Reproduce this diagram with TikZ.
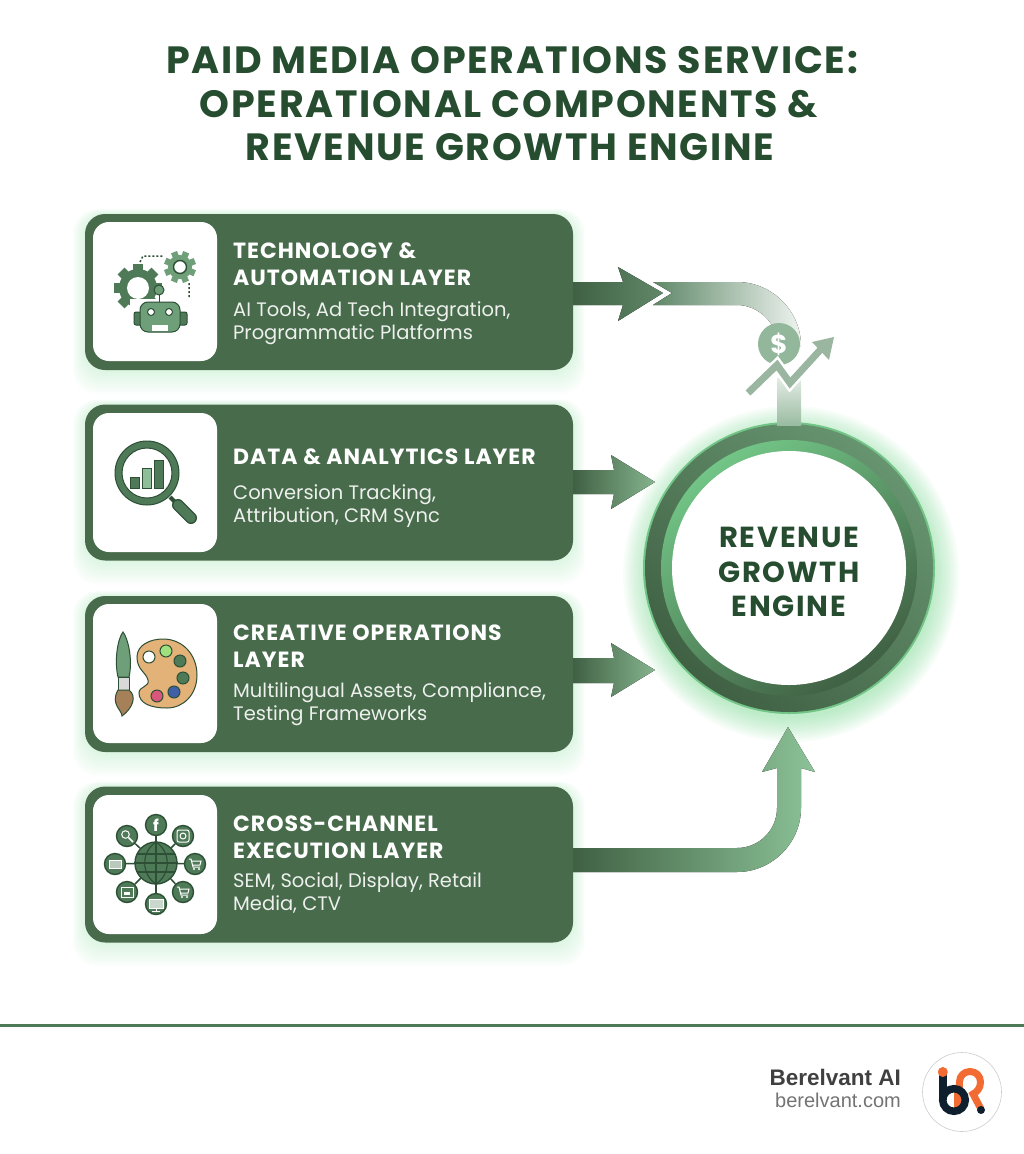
\documentclass[tikz,border=0pt]{standalone}
\usepackage{fontspec}
\setmainfont{Poppins}
\newfontfamily\footfont{Liberation Sans}
\newfontfamily\titlefont{Poppins}[LetterSpace=4.5]
\newfontfamily\headfont{Poppins}[LetterSpace=4.5]
\newfontfamily\corefont{Poppins}[LetterSpace=6]
\usetikzlibrary{backgrounds}

\definecolor{titlegreen}{HTML}{264D2F}
\definecolor{cardgreen}{HTML}{476B4B}
\definecolor{glowgreen}{HTML}{7BD892}
\definecolor{icondark}{HTML}{2C4F35}
\definecolor{iconmid}{HTML}{4F7A58}
\definecolor{iconsoft}{HTML}{6F9F79}
\definecolor{iconpale}{HTML}{8FBF98}
\definecolor{trendgreen}{HTML}{9AB6A0}
\definecolor{lognavy}{HTML}{0F1F2E}
\definecolor{logorange}{HTML}{F26B32}

\tikzset{
  cardbox/.style={fill=cardgreen, rounded corners=20pt, minimum width=488pt, minimum height=156pt, inner sep=0pt},
  iconbox/.style={fill=white, rounded corners=16pt, minimum width=124pt, minimum height=139pt, inner sep=0pt},
  cardhead/.style={anchor=west, align=left, text=white, inner sep=0pt, font=\headfont\fontsize{22}{26.5}\selectfont\bfseries},
  cardtext/.style={anchor=west, align=left, text=white!90!cardgreen, inner sep=0pt, font=\fontsize{19.5}{23}\selectfont},
  titleline/.style={text=titlegreen, inner sep=0pt, font=\titlefont\fontsize{38}{38}\selectfont\bfseries},
  satnode/.style={circle, draw=icondark, line width=1.4pt, fill=iconmid, minimum size=21pt, inner sep=0pt, text=white},
  paintdot/.style={draw=icondark, line width=1pt},
  iconline/.style={draw=icondark, line width=1pt},
  glyphline/.style={draw=white, line width=1pt},
}

% one gear, centre then radii
\newcommand{\gearicon}[5]{
  \begin{scope}[shift={(#1)}]
    \foreach \a in {0,45,...,315}
      \fill[#5, rotate=\a+#4] (-#3*0.2,#2*0.9) rectangle (#3*0.2,#3);
    \fill[#5] (0,0) circle (#2);
  \end{scope}
}

% small shopping cart
\newcommand{\cartglyph}[1]{
  \begin{scope}[shift={(#1)}]
    \draw[glyphline] (-6,-5) -- (-4,-5) -- (-2,3) -- (5,3) (-3.5,-3) -- (6,-3) -- (5,1) -- (-2.5,1);
    \fill[white] (-1,5) circle (1.2) (4,5) circle (1.2);
  \end{scope}
}

\begin{document}
\begin{tikzpicture}[x=1pt,y=-1pt]
  \useasboundingbox (0,0) rectangle (1024,1154);

  % Title
  \node[titleline] (title1) at (512,60) {PAID MEDIA OPERATIONS SERVICE:};
  \node[titleline] (title2) at (509,104) {OPERATIONAL COMPONENTS \&};
  \node[titleline] (title3) at (510,147) {REVENUE GROWTH ENGINE};

  % Cards
  \node[cardbox] (techcard) at (329,292) {};
  \node[cardbox] (datacard) at (329,482.5) {};
  \node[cardbox] (creacard) at (329,674) {};
  \node[cardbox] (crosscard) at (329,864.5) {};

  \node[iconbox] (techicon) at (155,291.5) {};
  \node[iconbox] (dataicon) at (155,482.5) {};
  \node[iconbox] (creaicon) at (155,673.5) {};
  \node[iconbox] (crossicon) at (155,864.5) {};

  \node[cardhead] (techhead) at (233,264) {TECHNOLOGY \&\\AUTOMATION LAYER};
  \node[cardtext] (techtext) at (233,323.5) {AI Tools, Ad Tech Integration,\\Programmatic Platforms};
  \node[cardhead] (datahead) at (233,457) {DATA \& ANALYTICS LAYER};
  \node[cardtext] (datatext) at (233,506) {Conversion Tracking,\\Attribution, CRM Sync};
  \node[cardhead] (creahead) at (233,646) {CREATIVE OPERATIONS\\LAYER};
  \node[cardtext] (creatext) at (233,704) {Multilingual Assets, Compliance,\\Testing Frameworks};
  \node[cardhead] (crosshead) at (233,837) {CROSS-CHANNEL\\EXECUTION LAYER};
  \node[cardtext] (crosstext) at (233,893) {SEM, Social, Display, Retail\\Media, CTV};

  % Glow
  \begin{scope}[on background layer]
    \foreach \g in {2,4,...,24} {
      \fill[glowgreen, opacity=0.025, rounded corners=24pt] ([shift={(-\g*0.5,-\g*0.2)}]techcard.north west) rectangle ([shift={(\g*0.5,\g)}]techcard.south east);
      \fill[glowgreen, opacity=0.025, rounded corners=24pt] ([shift={(-\g*0.5,-\g*0.2)}]datacard.north west) rectangle ([shift={(\g*0.5,\g)}]datacard.south east);
      \fill[glowgreen, opacity=0.025, rounded corners=24pt] ([shift={(-\g*0.5,-\g*0.2)}]creacard.north west) rectangle ([shift={(\g*0.5,\g)}]creacard.south east);
      \fill[glowgreen, opacity=0.025, rounded corners=24pt] ([shift={(-\g*0.5,-\g*0.2)}]crosscard.north west) rectangle ([shift={(\g*0.5,\g)}]crosscard.south east);
    }
    \foreach \g in {2,4,...,26}
      \fill[glowgreen, opacity=0.05] (791,574) circle (142+\g);
  \end{scope}

  % Engine
  \node[circle, fill=glowgreen!80!iconmid, minimum size=292pt, inner sep=0pt] (engine) at (789,568) {};
  \shade[top color=iconsoft!80!cardgreen, bottom color=cardgreen!90!black, shading angle=-40] (engine) circle (144);
  \shade[top color=glowgreen!80!iconmid, bottom color=cardgreen!90!black, shading angle=35] (engine) circle (128);
  \node[circle, fill=white, minimum size=234pt, inner sep=0pt] (enginecore) at (789,568) {};
  \node[align=center, text=titlegreen, inner sep=0pt, font=\corefont\fontsize{29}{34.5}\selectfont\bfseries] (enginetext) at (789,572) {REVENUE\\GROWTH\\ENGINE};

  % Arrows
  \fill[left color=cardgreen!90!black, right color=iconmid!90!white] (techcard.east |- 0,282) -- (623,282) -- (618,267) -- (663,293) -- (618,321) -- (623,305) -- (techcard.east |- 0,305) -- cycle;
  \fill[left color=iconsoft!85!black, middle color=iconsoft, right color=iconsoft!12!white] (653,282) -- (737,282) .. controls (772,282) and (801,311) .. (801,346) -- (778,346) .. controls (778,324) and (759,305) .. (737,305) -- (653,305) -- (672,293) -- cycle;

  \fill[left color=cardgreen!90!black, right color=iconpale!85!iconmid] (datacard.east |- 0,470) -- (614,470) -- (611,455) -- (655,482) -- (611,509) -- (614,494) -- (datacard.east |- 0,494) -- cycle;
  \fill[left color=cardgreen!90!black, right color=iconpale!85!iconmid] (creacard.east |- 0,658) -- (614,658) -- (611,643) -- (655,670) -- (611,697) -- (614,683) -- (creacard.east |- 0,683) -- cycle;

  \fill[left color=cardgreen!90!black, right color=iconpale!85!glowgreen] (crosscard.east |- 0,848) -- (737,848) .. controls (759,848) and (777,830) .. (777,808) -- (777,768) -- (762,772) -- (788,727) -- (815,772) -- (801,768) -- (801,808) .. controls (801,843) and (772,872) .. (737,872) -- (crosscard.east |- 0,872) -- cycle;

  % Coin and trend
  \shade[top color=white!80!iconsoft, bottom color=iconsoft!70!white] (777,378) rectangle (801,425);
  \node[circle, fill=iconsoft!75!white, minimum size=42pt, inner sep=0pt, text=white, font=\fontsize{26}{26}\selectfont\bfseries] (coin) at (779,344) {\$};
  \coordinate (trendstart) at (748,393);
  \coordinate (trendtip) at (834,337);
  \draw[white, line width=12pt] (trendstart) -- (777,365) -- (790,383) -- (820,350);
  \draw[trendgreen, line width=7pt] (trendstart) -- (777,365) -- (790,383) -- (822,348);
  \fill[trendgreen] (trendtip) -- (812,342) -- (829,360) -- cycle;

  % Gear and robot icon
  \gearicon{138,288}{19}{24}{0}{iconmid}
  \fill[white] (138,288) circle (11);
  \gearicon{180,267}{12}{16}{22}{iconsoft}
  \draw[fill=white, line width=1.4pt, draw=icondark] (180,267) circle (6.5);
  \draw[icondark, line width=1.5pt, dash pattern=on 2pt off 2pt] (140,262) -- (143,256) -- (163,256);
  \draw[icondark, line width=1.5pt, dash pattern=on 2pt off 2pt] (189,283) -- (189,300) -- (183,304);
  \fill[white] (130,299) rectangle (190,336);
  \draw[iconline, fill=iconmid, rounded corners=2pt] (134,312) rectangle (187,325);
  \draw[iconline] (159,302) -- (159,294);
  \draw[iconline, fill=iconsoft] (159,290) circle (5);
  \draw[iconline, fill=iconsoft, rounded corners=8pt] (140,302) rectangle (180,332);
  \draw[iconline, fill=white] (151,312) circle (3.5);
  \draw[iconline, fill=white] (169,312) circle (3.5);
  \fill[white] (152,325) rectangle (168,331);

  % Magnifier icon
  \draw[icondark, line width=4pt] (170,497) -- (178,505);
  \draw[icondark, line width=12pt, line cap=round] (178,505) -- (191,518);
  \draw[iconmid, line width=9.5pt, line cap=round] (178,505) -- (191,518);
  \draw[iconline, fill=iconmid] (147,473) circle (32);
  \draw[iconline, fill=white] (147,473) circle (25);
  \draw[iconline, fill=iconmid] (130,477) rectangle (139,488);
  \draw[iconline, fill=iconpale] (142,468) rectangle (151,488);
  \draw[iconline, fill=iconmid] (154,460) rectangle (163,488);

  % Brush and palette icon
  \draw[iconline, fill=iconsoft] (123,632) .. controls (128,638) and (133,660) .. (129,677) -- (118,677) .. controls (114,660) and (118,638) .. (123,632) -- cycle;
  \draw[iconline, fill=gray!30] (118,677) rectangle (129,690);
  \draw[iconline, fill=brown!60!gray] (118,690) -- (129,690) .. controls (137,696) and (133,708) .. (122,716) .. controls (122,710) and (110,704) .. (118,690) -- cycle;
  \draw[iconline, fill={rgb,255:red,226;green,178;blue,120}] (137,657) .. controls (137,645) and (150,639) .. (163,639) .. controls (183,639) and (197,655) .. (197,675) .. controls (197,695) and (183,708) .. (167,708) .. controls (150,708) and (139,703) .. (139,693) .. controls (139,686) and (150,687) .. (148,680) .. controls (146,672) and (137,670) .. (137,657) -- cycle;
  \draw[paintdot, fill=white] (149,657) circle (6);
  \draw[paintdot, fill={rgb,255:red,160;green,224;blue,127}] (166,651) circle (6);
  \draw[paintdot, fill=iconmid] (180,661) circle (6);
  \draw[paintdot, fill=iconmid] (183,678) circle (6);
  \draw[paintdot, fill={rgb,255:red,63;green,95;blue,168}] (174,692) circle (6);
  \draw[paintdot, fill={rgb,255:red,217;green,87;blue,122}] (157,696) circle (6);

  % Globe and channels icon
  \node[circle, draw=icondark, line width=1.4pt, fill=iconmid, minimum size=42pt, inner sep=0pt] (globe) at (156,863) {};
  \draw[icondark, line width=1.2pt] (globe.north) -- (globe.south) (globe.west) -- (globe.east);
  \draw[icondark, line width=1.2pt] (137,854) -- (175,854) (137,872) -- (175,872);
  \draw[icondark, line width=1.2pt] (156,842) .. controls (141,852) and (141,874) .. (156,884) .. controls (171,874) and (171,852) .. (156,842);
  \foreach \name/\pos/\glyph in {sat1/{156,825}/f, sat2/{183,836}/, sat3/{195,864}/, sat4/{183,892}/, sat5/{156,904}/, sat6/{127,892}/, sat7/{115,864}/, sat8/{127,836}/} {
    \node[satnode, font=\fontsize{16}{16}\selectfont\bfseries] (\name) at (\pos) {\glyph};
    \draw[icondark, line width=1.5pt] (globe) -- (\name);
  }
  \draw[glyphline, rounded corners=2pt] (177,830) rectangle (189,842);
  \draw[glyphline] (183,836) circle (3);
  \cartglyph{195,864}
  \cartglyph{183,892}
  \draw[glyphline, fill=white!70!iconmid] (149,899) rectangle (163,908);
  \draw[glyphline] (156,908) -- (156,911) (152,911) -- (160,911);
  \draw[glyphline] (121,887) rectangle (133,897);
  \fill[white] (124,892) rectangle (130,895);
  \draw[glyphline, fill=white!60!iconmid] (109,860) rectangle (121,868);
  \draw[glyphline] (125.5,834.5) circle (3.8);
  \draw[glyphline, line width=1.5pt] (128.5,837.5) -- (133,842);

  % Footer
  \draw[iconmid, line width=3pt] (0,1025.5) -- (1024,1025.5);
  \node[anchor=base east, inner sep=0pt, text=black!75, font=\footfont\fontsize{22.5}{22.5}\selectfont\bfseries] (brandname) at (901,1085) {Berelvant AI};
  \node[anchor=base east, inner sep=0pt, text=black!55, font=\footfont\fontsize{20}{20}\selectfont] (brandurl) at (901,1107) {berelvant.com};
  \node[circle, draw=black!20, line width=0.6pt, fill=white, minimum size=79pt, inner sep=0pt] (logo) at (962,1092) {};
  \draw[logorange, line width=7pt] (959,1094) -- (959.5,1082) .. controls (959.5,1076) and (964,1071.5) .. (970,1071.5) .. controls (976,1071.5) and (980.5,1076) .. (980.5,1082) .. controls (980.5,1088) and (977,1092) .. (973,1094) -- (981,1109);
  \fill[logorange] (954,1092) rectangle (963,1110);
  \draw[lognavy, line width=7.5pt] (942.8,1073) -- (942.8,1100);
  \fill[logorange] (942.8,1072) circle (5);
  \draw[lognavy, line width=7.5pt] (954,1100) circle (11.3);
  \fill[lognavy] (981,1110) circle (4);
\end{tikzpicture}
\end{document}
